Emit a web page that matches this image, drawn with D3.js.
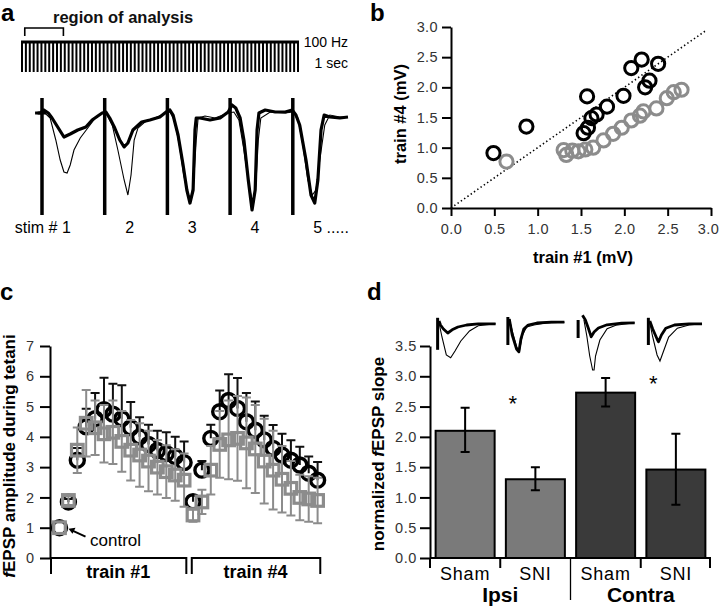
<!DOCTYPE html>
<html><head><meta charset="utf-8">
<script src="https://cdn.jsdelivr.net/npm/d3@7"></script>
<style>body{margin:0;background:#fff}svg{display:block;font-family:"Liberation Sans",Arial,sans-serif}</style>
</head><body><svg id="fig" width="720" height="608"></svg>
<script>
// ===================== DATA =====================
// Panel a: stimulus times (ms) and labels
const stimTimes = [0, 10, 20, 30, 40];
const stimLabels = ["stim # 1", "2", "3", "4", "5 ....."];
const trainPulseCount = 72;              // pulses drawn in the 1-s, 100-Hz train schematic
const analysisRegion = [0.01, 0.15];     // seconds of the train marked as region of analysis
// traces: [time ms, mV]
const traceThick = [[-1.1,0],[-0.3,0],[0.3,0.03],[1.0,0],[1.6,-0.05],[2.6,-0.15],[3.5,-0.24],[4.5,-0.21],[5.7,-0.17],[7.0,-0.14],[8.0,-0.07],[8.9,-0.03],[9.6,0],[10.2,0.01],[10.8,-0.05],[11.6,-0.15],[12.4,-0.27],[13.1,-0.34],[13.7,-0.30],[14.5,-0.17],[15.2,-0.13],[15.9,-0.09],[17.2,-0.07],[18.8,-0.04],[19.8,0.01],[20.4,0.03],[20.9,-0.02],[21.7,-0.22],[22.5,-0.52],[23.1,-0.77],[23.6,-0.90],[24.1,-0.77],[24.4,-0.17],[24.6,-0.05],[25.2,-0.05],[26.8,-0.07],[28.4,-0.05],[29.7,0.01],[30.3,0.08],[30.9,0.05],[31.6,-0.05],[32.2,-0.27],[32.9,-0.67],[33.5,-0.97],[34.0,-0.77],[34.3,-0.17],[34.6,0],[35.6,0.03],[37.2,0.01],[38.8,0.01],[39.9,0.03],[40.5,-0.02],[41.1,-0.12],[42.1,-0.47],[42.9,-0.82],[43.5,-0.90],[44.0,-0.67],[44.5,-0.17],[45.0,-0.02],[45.9,-0.04],[47.5,-0.05],[48.8,-0.04]];
const traceThin = [[-1.1,0],[0.3,0.01],[1.3,-0.05],[2.2,-0.27],[2.9,-0.47],[3.5,-0.59],[4.0,-0.60],[4.5,-0.52],[5.1,-0.37],[6.1,-0.25],[7.3,-0.15],[8.5,-0.05],[9.6,0],[10.2,0],[11.2,-0.12],[12.1,-0.37],[13.1,-0.67],[13.7,-0.82],[14.2,-0.62],[14.7,-0.27],[15.3,-0.15],[16.4,-0.09],[18.0,-0.05],[19.8,0],[20.4,0.01],[21.1,-0.07],[21.9,-0.32],[22.6,-0.62],[23.3,-0.82],[23.8,-0.85],[24.2,-0.67],[24.6,-0.27],[24.9,-0.05],[26.0,-0.03],[27.6,-0.05],[29.7,0],[30.6,0.01],[31.4,-0.07],[32.2,-0.37],[33.0,-0.72],[33.7,-0.92],[34.1,-0.72],[34.5,-0.27],[34.9,-0.05],[36.4,0.01],[38.8,0],[40.0,0.01],[40.8,-0.05],[41.6,-0.32],[42.4,-0.67],[43.1,-0.82],[43.7,-0.77],[44.3,-0.47],[45.1,-0.12],[45.9,-0.02],[47.5,-0.04],[48.8,-0.04]];

// Panel b: train #1 vs train #4 amplitude (mV)
const bBlackX = [0.49, 0.87, 1.57, 1.53, 1.58, 1.62, 1.68, 1.80, 1.99, 2.08, 2.20, 2.39, 2.24, 2.29];
const bBlackY = [0.91, 1.35, 1.85, 1.24, 1.33, 1.49, 1.55, 1.68, 1.86, 2.32, 2.46, 2.39, 2.00, 2.11];
const bGrayX  = [0.64, 1.30, 1.33, 1.40, 1.47, 1.55, 1.64, 1.76, 1.87, 1.97, 2.08, 2.18, 2.22, 2.37, 2.49, 2.57, 2.66];
const bGrayY  = [0.77, 0.96, 0.88, 0.95, 0.94, 0.97, 1.00, 1.12, 1.23, 1.33, 1.45, 1.53, 1.60, 1.65, 1.82, 1.92, 1.96];
const bTicks = [0.0, 0.5, 1.0, 1.5, 2.0, 2.5, 3.0];

// Panel c: normalized amplitude per stimulus (index 0 = control, 1-14 train #1, 15-29 train #4)
const cBlack    = [1.0,1.85,3.23,4.33,4.6,4.9,4.75,4.6,4.3,4.0,3.75,3.55,3.45,3.35,3.15, 1.86,2.9,3.95,4.83,5.2,4.94,4.5,4.22,3.9,3.62,3.4,3.23,3.07,2.8,2.57];
const cBlackErr = [0.0,0.1,0.4,0.6,0.85,1.05,1.0,1.1,0.85,0.65,0.65,0.65,0.7,0.65,0.7, 0.2,0.3,0.45,0.7,0.87,1.0,0.95,0.95,0.8,0.77,0.7,0.66,0.6,0.55,0.6];
const cGray     = [1.0,1.9,3.56,4.45,4.3,4.1,4.15,3.85,3.56,3.4,3.2,3.0,2.85,2.74,2.57, 1.42,1.85,2.9,3.75,3.9,3.95,3.8,3.6,3.2,2.9,2.6,2.3,2.0,1.95,1.9];
const cGrayErr  = [0.0,0.15,0.75,1.1,0.9,0.95,1.05,1.0,1.0,1.05,1.0,0.9,0.87,0.85,0.88, 0.22,0.4,0.8,1.1,1.3,1.4,1.5,1.45,1.4,1.3,1.1,0.9,0.75,0.75,0.75];
const cTrains = ["train #1", "train #4"];
const cTrainRanges = [[-1.1, 14.25], [14.75, 29.3]];
const cTicks = [0,1,2,3,4,5,6,7];

// Panel d: bars
const dGroups = ["Sham", "SNI", "Sham", "SNI"];
const dSides = ["Ipsi", "Contra"];
const dValues = [2.10, 1.30, 2.73, 1.46];
const dErrHi = [2.48, 1.50, 2.97, 2.05];
const dErrLo = [1.75, 1.12, 2.50, 0.88];
const dStarBars = [1, 3];          // bars marked with a significance star
const dStarLevels = [2.62, 2.96];  // vertical level of each star
const dTicks = [0.0,0.5,1.0,1.5,2.0,2.5,3.0,3.5];
// inset traces above bars: [ms, mV]
const insetThick = [
  [[0.5,0.1],[1,0],[2,-0.1],[3.5,-0.2],[5,-0.12],[7,-0.05],[10,0],[14,0.03],[20,0.03]],
  [[0.5,0.1],[1.5,-0.3],[3,-0.65],[3.8,-0.72],[4.5,-0.4],[5.5,-0.15],[7,-0.05],[10,0],[15,0.02],[19.5,0.02]],
  [[1.5,0.22],[2.5,0.1],[3.5,-0.1],[4.5,-0.32],[5.5,-0.2],[7,-0.1],[10,-0.02],[15,0.02],[19.5,0.03]],
  [[0.5,0.1],[1.5,-0.1],[3,-0.35],[3.5,-0.42],[4.5,-0.25],[6,-0.08],[9,0],[14,0.03],[18.5,0.03]]
];
const insetThin = [
  [[0.5,0.05],[1.5,-0.3],[3,-0.75],[4.5,-0.82],[6,-0.65],[8,-0.4],[11,-0.15],[14,-0.02],[20,0.03]],
  [[0.5,0.1],[1.5,-0.2],[3,-0.6],[4,-0.7],[5,-0.3],[6.5,-0.1],[9,-0.05],[13,0],[19.5,0.02]],
  [[2,0.1],[3,-0.3],[4,-0.8],[5,-1.15],[5.5,-1.15],[6,-0.8],[7.5,-0.4],[10,-0.12],[13,-0.03],[19.5,0.03]],
  [[0.5,0.05],[1.5,-0.3],[3,-0.75],[4,-0.9],[5,-0.7],[7,-0.3],[10,-0.08],[14,0],[18.5,0.03]]
];
const insetArtifact = [[0.18,-0.62],[0.15,-0.55],[0.1,-0.35],[0.18,-0.5]];

// ===================== DRAWING =====================
const svg = d3.select("#fig");
const GRAY = "#8c8c8c";
const TXT = "#333";
function panelLabel(t, x, y){ svg.append("text").attr("x",x).attr("y",y).attr("font-size",24).attr("font-weight","bold").text(t); }

// ---------- Panel a ----------
panelLabel("a", 1, 21);
const gA = svg.append("g");
const xTrain = d3.scaleLinear().domain([0,1]).range([22,298]);
const pulses = d3.range(trainPulseCount).map(i => i/(trainPulseCount-1));
gA.append("line").attr("x1",xTrain(0)-1).attr("x2",xTrain(1)+1).attr("y1",42).attr("y2",42).attr("stroke","#000").attr("stroke-width",3);
gA.selectAll(".pulse").data(pulses).join("line").attr("class","pulse")
  .attr("x1",d=>xTrain(d)).attr("x2",d=>xTrain(d)).attr("y1",42).attr("y2",72).attr("stroke","#000").attr("stroke-width",2);
gA.append("path").attr("fill","none").attr("stroke","#000").attr("stroke-width",1.6)
  .attr("d",`M${xTrain(analysisRegion[0])},36V28H${xTrain(analysisRegion[1])}V36`);
gA.append("text").attr("x",53).attr("y",23).attr("font-size",16.5).attr("font-weight","bold").attr("fill","#111").text("region of analysis");
gA.append("text").attr("x",348).attr("y",47).attr("font-size",14).attr("text-anchor","end").text("100 Hz");
gA.append("text").attr("x",348).attr("y",68).attr("font-size",14).attr("text-anchor","end").text("1 sec");

const xA = d3.scaleLinear().domain([0,50]).range([42,355.5]);
const yA = d3.scaleLinear().domain([0,-1]).range([113,213]);
const lineA = d3.line().x(d=>xA(d[0])).y(d=>yA(d[1]));
gA.append("path").datum(traceThin).attr("d",lineA).attr("fill","none").attr("stroke","#000").attr("stroke-width",1.1);
gA.append("path").datum(traceThick).attr("d",lineA).attr("fill","none").attr("stroke","#000").attr("stroke-width",3.2).attr("stroke-linejoin","round");
gA.selectAll(".art").data(stimTimes).join("line").attr("class","art")
  .attr("x1",d=>xA(d)).attr("x2",d=>xA(d)).attr("y1",yA(0.15)).attr("y2",yA(-1.02)).attr("stroke","#000").attr("stroke-width",3.5);
gA.append("line").attr("x1",xA(-0.7)).attr("x2",xA(0.7)).attr("y1",yA(0)).attr("y2",yA(0)).attr("stroke","#000").attr("stroke-width",3);
gA.selectAll(".sl").data(stimTimes).join("text").attr("class","sl")
  .attr("x",(d,i)=> i===0 ? xA(d+4.6) : xA(d+3.9)-4)
  .attr("text-anchor",(d,i)=> i===0 ? "end" : "start")
  .attr("y",233).attr("font-size",16).text((d,i)=>stimLabels[i]);

// ---------- Panel b ----------
panelLabel("b", 370, 21);
const gB = svg.append("g");
const xB = d3.scaleLinear().domain([0,3]).range([451,711]);
const yB = d3.scaleLinear().domain([0,3]).range([208,27]);
gB.append("line").attr("x1",xB(0)).attr("y1",yB(0)).attr("x2",xB(2.95)).attr("y2",yB(2.95))
  .attr("stroke","#000").attr("stroke-width",1.6).attr("stroke-dasharray","1.4,2.6");
const axBx = gB.append("g").attr("transform",`translate(0,${yB(0)})`)
  .call(d3.axisBottom(xB).tickValues(bTicks).tickFormat(d3.format(".1f")).tickSize(8).tickSizeOuter(0).tickPadding(8));
const axBy = gB.append("g").attr("transform",`translate(${xB(0)},0)`)
  .call(d3.axisLeft(yB).tickValues(bTicks).tickFormat(d3.format(".1f")).tickSize(9).tickSizeOuter(0).tickPadding(4));
[axBx, axBy].forEach(a=>{
  a.select(".domain").attr("stroke","#000").attr("stroke-width",2);
  a.selectAll(".tick line").attr("stroke","#000").attr("stroke-width",2);
  a.selectAll(".tick text").attr("font-size",14.5).attr("fill",TXT).attr("font-family","Liberation Sans, Arial, sans-serif").attr("letter-spacing",0.4);
});
axBx.selectAll(".tick text").filter(d=>d===3).attr("dx",-3);
gB.selectAll(".bg").data(bGrayX).join("circle").attr("class","bg")
  .attr("cx",d=>xB(d)).attr("cy",(d,i)=>yB(bGrayY[i])).attr("r",6.6).attr("fill","none").attr("stroke",GRAY).attr("stroke-width",3);
gB.selectAll(".bb").data(bBlackX).join("circle").attr("class","bb")
  .attr("cx",d=>xB(d)).attr("cy",(d,i)=>yB(bBlackY[i])).attr("r",6.6).attr("fill","none").attr("stroke","#000").attr("stroke-width",3);
gB.append("text").attr("x",583).attr("y",263).attr("text-anchor","middle").attr("font-size",16.5).attr("font-weight","bold").text("train #1 (mV)");
gB.append("text").attr("transform","translate(406,114) rotate(-90)").attr("text-anchor","middle").attr("font-size",16.5).attr("font-weight","bold").text("train #4 (mV)");

// ---------- Panel c ----------
panelLabel("c", 0, 300);
const gC = svg.append("g");
const xC = d3.scaleLinear().domain([0,29]).range([59.5,317.6]);
const yC = d3.scaleLinear().domain([0,7]).range([558,346]);
const axCy = gC.append("g").attr("transform",`translate(50,0)`)
  .call(d3.axisLeft(yC).tickValues(cTicks).tickFormat(d3.format("d")).tickSize(10).tickSizeOuter(0).tickPadding(6));
axCy.select(".domain").attr("stroke","#000").attr("stroke-width",2);
axCy.selectAll(".tick line").attr("stroke","#000").attr("stroke-width",2);
axCy.selectAll(".tick text").attr("font-size",14.5).attr("fill",TXT).attr("font-family","Liberation Sans, Arial, sans-serif");
// train brackets
cTrainRanges.forEach((r,i)=>{
  const x0 = i===0 ? 50 : xC(r[0]), x1 = xC(r[1]);
  gC.append("path").attr("fill","none").attr("stroke","#000").attr("stroke-width",2)
    .attr("d",`M${x0+1},574V558H${x1}V574`);
  gC.append("text").attr("x",(x0+x1)/2).attr("y",578).attr("text-anchor","middle").attr("font-size",18).attr("font-weight","bold").text(cTrains[i]);
});
const idx = d3.range(cBlack.length);
// black error bars (upward)
gC.selectAll(".be").data(idx.filter(i=>cBlackErr[i]>0)).join("path").attr("class","be")
  .attr("d",i=>`M${xC(i)},${yC(cBlack[i])}V${yC(cBlack[i]+cBlackErr[i])}M${xC(i)-4.5},${yC(cBlack[i]+cBlackErr[i])}H${xC(i)+4.5}`)
  .attr("stroke","#111").attr("stroke-width",2).attr("fill","none");
gC.selectAll(".bc").data(idx).join("circle").attr("class","bc")
  .attr("cx",i=>xC(i)).attr("cy",i=>yC(cBlack[i])).attr("r",7).attr("fill","none").attr("stroke","#000").attr("stroke-width",3.4);
// gray error bars (both ways)
gC.selectAll(".ge").data(idx.filter(i=>cGrayErr[i]>0)).join("path").attr("class","ge")
  .attr("d",i=>{const x=xC(i), a=yC(cGray[i]+cGrayErr[i]), b=yC(cGray[i]-cGrayErr[i]);
     return `M${x},${a}V${b}M${x-4.5},${a}H${x+4.5}M${x-4.5},${b}H${x+4.5}`;})
  .attr("stroke",GRAY).attr("stroke-width",2).attr("fill","none");
gC.selectAll(".gs").data(idx).join("rect").attr("class","gs")
  .attr("x",i=>xC(i)-5.8).attr("y",i=>yC(cGray[i])-5.8).attr("width",11.6).attr("height",11.6)
  .attr("fill","none").attr("stroke",GRAY).attr("stroke-width",3.2);
// control annotation
const ax0 = xC(0)+9, ay0 = yC(cGray[0])+1;
gC.append("line").attr("x1",ax0+17).attr("y1",ay0+8).attr("x2",ax0+4).attr("y2",ay0+2).attr("stroke","#000").attr("stroke-width",2);
gC.append("path").attr("d",`M${ax0},${ay0}l7,-1l-3,6z`).attr("fill","#000");
gC.append("text").attr("x",90).attr("y",546).attr("font-size",17).text("control");
gC.append("text").attr("transform","translate(15,456) rotate(-90)").attr("text-anchor","middle").attr("font-size",17).attr("font-weight","bold")
  .call(t=>{t.append("tspan").attr("font-style","italic").text("f"); t.append("tspan").text("EPSP amplitude during tetani");});

// ---------- Panel d ----------
panelLabel("d", 367, 300);
const gD = svg.append("g");
const xD = d3.scaleBand().domain(d3.range(dValues.length)).range([430,711]).paddingInner(0.16).paddingOuter(0.08);
const yD = d3.scaleLinear().domain([0,3.5]).range([558,346]);
const axDy = gD.append("g").attr("transform",`translate(430,0)`)
  .call(d3.axisLeft(yD).tickValues(dTicks).tickFormat(d3.format(".1f")).tickSize(10).tickSizeOuter(0).tickPadding(3));
axDy.select(".domain").attr("stroke","#000").attr("stroke-width",2);
axDy.selectAll(".tick line").attr("stroke","#000").attr("stroke-width",2);
axDy.selectAll(".tick text").attr("font-size",14.5).attr("fill",TXT).attr("font-family","Liberation Sans, Arial, sans-serif").attr("letter-spacing",0.6);
const barFill = i => i < 2 ? "#7a7a7a" : "#3a3a3a";
gD.selectAll(".bar").data(dValues).join("rect").attr("class","bar")
  .attr("x",(d,i)=>xD(i)).attr("width",xD.bandwidth()).attr("y",d=>yD(d)).attr("height",d=>yD(0)-yD(d))
  .attr("fill",(d,i)=>barFill(i)).attr("stroke","#000").attr("stroke-width",2);
gD.selectAll(".de").data(dValues).join("path").attr("class","de")
  .attr("d",(d,i)=>{const x=xD(i)+xD.bandwidth()/2, a=yD(dErrHi[i]), b=yD(dErrLo[i]);
     return `M${x},${a}V${b}M${x-4.5},${a}H${x+4.5}M${x-4.5},${b}H${x+4.5}`;})
  .attr("stroke","#000").attr("stroke-width",2).attr("fill","none");
// bottom axis with group ticks
const bottomY = yD(0);
gD.append("line").attr("x1",430).attr("x2",711).attr("y1",bottomY).attr("y2",bottomY).attr("stroke","#000").attr("stroke-width",2);
const sepX = [430, (xD(0)+xD.bandwidth()+xD(1))/2, (xD(1)+xD.bandwidth()+xD(2))/2, (xD(2)+xD.bandwidth()+xD(3))/2, 710];
sepX.forEach((x,i)=>gD.append("line").attr("x1",x).attr("x2",x).attr("y1",bottomY).attr("y2",i===2?600:568).attr("stroke","#000").attr("stroke-width",i===2?1.3:2));
gD.selectAll(".gl").data(dGroups).join("text").attr("class","gl")
  .attr("x",(d,i)=>xD(i)+xD.bandwidth()/2).attr("y",580).attr("text-anchor","middle").attr("font-size",18).attr("letter-spacing",0.8).text(d=>d);
dSides.forEach((s,k)=>gD.append("text").attr("x",(xD(2*k)+xD(2*k+1)+xD.bandwidth())/2).attr("y",602).attr("text-anchor","middle")
  .attr("font-size",21).attr("font-weight","bold").text(s));
dStarBars.forEach((b,k)=>{
  gD.append("text").attr("x",xD(b)+7).attr("y",yD(dStarLevels[k])+12).attr("text-anchor","middle").attr("font-size",22).text("*");
});
// inset traces
const insetX0 = dValues.map((d,i)=>xD(i)+2);
const yIns = [325,323,324,325];
dValues.forEach((d,i)=>{
  const xs = d3.scaleLinear().domain([0,20]).range([insetX0[i], insetX0[i]+58]);
  const ys = d3.scaleLinear().domain([0,-1]).range([yIns[i], yIns[i]+40]);
  const ln = d3.line().x(p=>xs(p[0])).y(p=>ys(p[1]));
  gD.append("path").datum(insetThin[i]).attr("d",ln).attr("fill","none").attr("stroke","#000").attr("stroke-width",1.1);
  gD.append("path").datum(insetThick[i]).attr("d",ln).attr("fill","none").attr("stroke","#000").attr("stroke-width",2.8).attr("stroke-linejoin","round");
  gD.append("line").attr("x1",xs(0)).attr("x2",xs(0)).attr("y1",ys(insetArtifact[i][0])).attr("y2",ys(insetArtifact[i][1])).attr("stroke","#000").attr("stroke-width",3);
});
gD.append("text").attr("transform","translate(384,454) rotate(-90)").attr("text-anchor","middle").attr("font-size",17).attr("font-weight","bold")
  .call(t=>{t.append("tspan").text("normalized "); t.append("tspan").attr("font-style","italic").text("f"); t.append("tspan").text("EPSP slope");});
</script></body></html>
